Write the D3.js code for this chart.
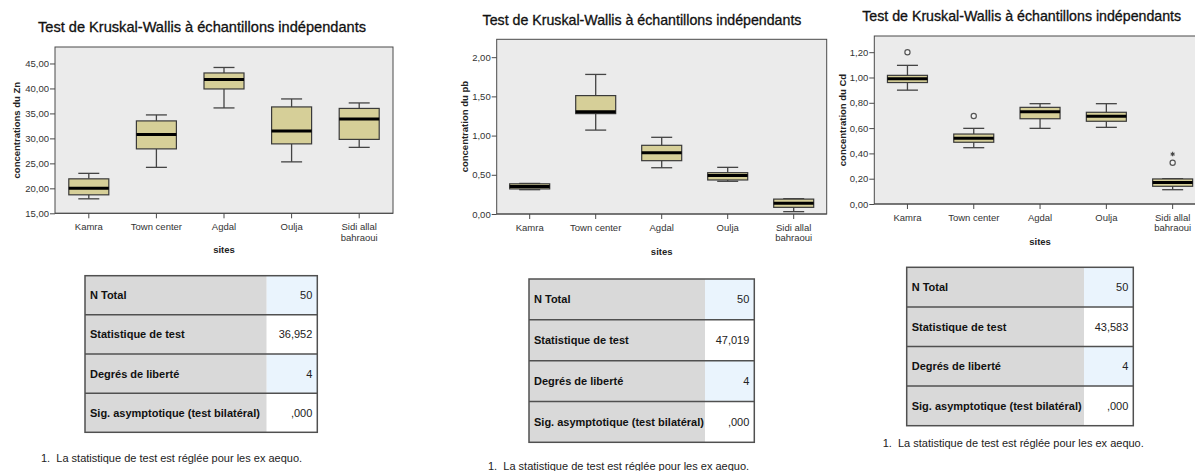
<!DOCTYPE html>
<html>
<head>
<meta charset="utf-8">
<script src="https://cdn.jsdelivr.net/npm/d3@7"></script>
<style>
  body { margin: 0; background: #fff; }
  svg { display: block; }
</style>
</head>
<body>
<div id="graphArea"></div>
<script>
const sites = ["Kamra", "Town center", "Agdal", "Oulja", "Sidi allal bahraoui"];
const siteLines = [["Kamra"], ["Town center"], ["Agdal"], ["Oulja"], ["Sidi allal", "bahraoui"]];

// [min, q1, median, q3, max]
const znBoxes = [
  [17.9, 18.7, 20.0, 21.9, 23.0],
  [24.2, 27.9, 30.8, 33.5, 34.7],
  [36.1, 39.9, 41.8, 43.1, 44.2],
  [25.3, 28.9, 31.5, 36.3, 37.9],
  [28.2, 29.8, 33.9, 36.0, 37.1]
];
const pbBoxes = [
  [0.31, 0.32, 0.35, 0.385, 0.39],
  [1.07, 1.28, 1.305, 1.51, 1.78],
  [0.59, 0.68, 0.78, 0.876, 0.978],
  [0.417, 0.434, 0.49, 0.527, 0.595],
  [0.03, 0.085, 0.136, 0.19, 0.195]
];
const cdBoxes = [
  [0.90, 0.96, 0.99, 1.017, 1.096],
  [0.445, 0.488, 0.52, 0.553, 0.598],
  [0.598, 0.674, 0.73, 0.764, 0.793],
  [0.606, 0.654, 0.693, 0.725, 0.793],
  [0.113, 0.14, 0.17, 0.198, 0.2]
];
const cdOutliers = [
  {site: "Kamra", value: 1.2, kind: "circle"},
  {site: "Town center", value: 0.696, kind: "circle"},
  {site: "Sidi allal bahraoui", value: 0.326, kind: "circle"},
  {site: "Sidi allal bahraoui", value: 0.395, kind: "star"}
];

const znTicks = [15, 20, 25, 30, 35, 40, 45];
const pbTicks = [0, 0.5, 1, 1.5, 2];
const cdTicks = [0, 0.2, 0.4, 0.6, 0.8, 1.0, 1.2];

const tableLabels = ["N Total", "Statistique de test", "Degrés de liberté", "Sig. asymptotique (test bilatéral)"];
const znTable = ["50", "36,952", "4", ",000"];
const pbTable = ["50", "47,019", "4", ",000"];
const cdTable = ["50", "43,583", "4", ",000"];

const chartTitle = "Test de Kruskal-Wallis à échantillons indépendants";
const footnote = "1.  La statistique de test est réglée pour les ex aequo.";

const fr = d3.formatLocale({decimal: ",", thousands: " ", grouping: [3], currency: ["", " €"]});
const fmt = fr.format(".2f");
const FONT = "'Liberation Sans', Arial, sans-serif";
const NARROW = "'Liberation Sans Narrow', 'Arial Narrow', sans-serif";

const svg = d3.select("#graphArea").append("svg")
  .attr("width", 1195).attr("height", 471);

function boxplot(opt) {
  const g = svg.append("g");
  const x = d3.scaleBand().domain(sites).range([opt.x0, opt.x1]);
  const y = d3.scaleLinear().domain(opt.domain).range([opt.y1, opt.y0]);

  g.append("rect")
    .attr("x", opt.x0).attr("y", opt.y0)
    .attr("width", opt.x1 - opt.x0).attr("height", opt.y1 - opt.y0)
    .attr("fill", "#ebebeb").attr("stroke", "#4a4a4a").attr("stroke-width", 1);

  const ya = g.append("g")
    .attr("transform", "translate(" + opt.x0 + ",0)")
    .call(d3.axisLeft(y).tickValues(opt.ticks).tickFormat(fmt).tickSize(5).tickPadding(1));
  ya.select(".domain").remove();
  ya.selectAll("line").attr("stroke", "#4a4a4a");
  ya.selectAll("text").attr("font-family", FONT).attr("font-size", opt.tickFont).attr("fill", "#333");

  const xa = g.append("g")
    .attr("transform", "translate(0," + opt.y1 + ")")
    .call(d3.axisBottom(x).tickSize(5).tickFormat(""));
  xa.select(".domain").remove();
  xa.selectAll("line").attr("stroke", "#4a4a4a");
  g.append("line")
    .attr("x1", opt.x0).attr("x2", opt.x1).attr("y1", opt.y1).attr("y2", opt.y1)
    .attr("stroke", "#4a4a4a");

  sites.forEach(function(s, i) {
    const t = g.append("text")
      .attr("x", x(s) + x.bandwidth() / 2)
      .attr("y", opt.labelY)
      .attr("text-anchor", "middle")
      .attr("font-family", FONT).attr("font-size", opt.tickFont).attr("fill", "#333");
    siteLines[i].forEach(function(line, j) {
      t.append("tspan").attr("x", x(s) + x.bandwidth() / 2).attr("dy", j === 0 ? 0 : 10.5).text(line);
    });
  });

  const bw = 40, cw = 21;
  opt.boxes.forEach(function(b, i) {
    const cx = x(sites[i]) + x.bandwidth() / 2;
    const bg = g.append("g");
    bg.append("line").attr("x1", cx).attr("x2", cx).attr("y1", y(b[0])).attr("y2", y(b[1]))
      .attr("stroke", "#444").attr("stroke-width", 1.3);
    bg.append("line").attr("x1", cx).attr("x2", cx).attr("y1", y(b[3])).attr("y2", y(b[4]))
      .attr("stroke", "#444").attr("stroke-width", 1.3);
    bg.append("line").attr("x1", cx - cw / 2).attr("x2", cx + cw / 2).attr("y1", y(b[0])).attr("y2", y(b[0]))
      .attr("stroke", "#444").attr("stroke-width", 1.3);
    bg.append("line").attr("x1", cx - cw / 2).attr("x2", cx + cw / 2).attr("y1", y(b[4])).attr("y2", y(b[4]))
      .attr("stroke", "#444").attr("stroke-width", 1.3);
    bg.append("rect")
      .attr("x", cx - bw / 2).attr("y", y(b[3]))
      .attr("width", bw).attr("height", y(b[1]) - y(b[3]))
      .attr("fill", "#d6cf98").attr("stroke", "#3a3a3a").attr("stroke-width", 1.2);
    bg.append("line").attr("x1", cx - bw / 2).attr("x2", cx + bw / 2).attr("y1", y(b[2])).attr("y2", y(b[2]))
      .attr("stroke", "#000").attr("stroke-width", 3);
  });

  (opt.outliers || []).forEach(function(o) {
    const cx = x(o.site) + x.bandwidth() / 2;
    if(o.kind === "circle") {
      g.append("circle").attr("cx", cx).attr("cy", y(o.value)).attr("r", 2.6)
        .attr("fill", "#f4f4f4").attr("stroke", "#555").attr("stroke-width", 1.2);
    }
    else {
      g.append("path").attr("d", d3.symbol(d3.symbolAsterisk, 14)())
        .attr("transform", "translate(" + cx + "," + y(o.value) + ")")
        .attr("fill", "none").attr("stroke", "#444").attr("stroke-width", 1.1);
    }
  });

  svg.append("text")
    .attr("x", opt.titleX).attr("y", opt.titleY)
    .attr("text-anchor", "middle")
    .attr("font-family", FONT).attr("font-size", opt.titleFont).attr("fill", "#111")
    .attr("stroke", "#111").attr("stroke-width", 0.3)
    .text(chartTitle);

  svg.append("text")
    .attr("transform", "translate(" + opt.ylabX + "," + ((opt.y0 + opt.y1) / 2) + ")rotate(-90)")
    .attr("text-anchor", "middle")
    .attr("font-family", FONT).attr("font-size", 9.5).attr("font-weight", "bold").attr("fill", "#222")
    .text(opt.yLabel);

  svg.append("text")
    .attr("x", (opt.x0 + opt.x1) / 2).attr("y", opt.sitesY)
    .attr("text-anchor", "middle")
    .attr("font-family", FONT).attr("font-size", 9.5).attr("font-weight", "bold").attr("fill", "#222")
    .text("sites");
}

function statTable(opt) {
  const g = svg.append("g");
  const rh = (opt.y1 - opt.y0) / tableLabels.length;
  const rows = d3.range(tableLabels.length);
  g.selectAll("rect.lab").data(rows).join("rect")
    .attr("x", opt.x0).attr("y", d => opt.y0 + d * rh)
    .attr("width", opt.xc - opt.x0).attr("height", rh)
    .attr("fill", "#d9d9d9");
  g.selectAll("rect.val").data(rows).join("rect")
    .attr("x", opt.xc).attr("y", d => opt.y0 + d * rh)
    .attr("width", opt.x1 - opt.xc).attr("height", rh)
    .attr("fill", d => d % 2 === 0 ? "#eaf4fd" : "#ffffff");
  g.selectAll("line.row").data(rows.slice(1)).join("line")
    .attr("x1", opt.x0).attr("x2", opt.x1)
    .attr("y1", d => opt.y0 + d * rh).attr("y2", d => opt.y0 + d * rh)
    .attr("stroke", "#505050").attr("stroke-width", 1.5);
  g.append("rect")
    .attr("x", opt.x0).attr("y", opt.y0)
    .attr("width", opt.x1 - opt.x0).attr("height", opt.y1 - opt.y0)
    .attr("fill", "none").attr("stroke", "#505050").attr("stroke-width", 1.5);
  g.selectAll("text.lab").data(tableLabels).join("text")
    .attr("x", opt.x0 + 5).attr("y", (d, i) => opt.y0 + i * rh + rh / 2 + 4)
    .attr("font-family", NARROW).attr("font-size", 11).attr("font-weight", "bold").attr("fill", "#111")
    .text(d => d);
  g.selectAll("text.val").data(opt.values).join("text")
    .attr("x", opt.x1 - 5).attr("y", (d, i) => opt.y0 + i * rh + rh / 2 + 4)
    .attr("text-anchor", "end")
    .attr("font-family", NARROW).attr("font-size", 11).attr("fill", "#222")
    .text(d => d);
  svg.append("text")
    .attr("x", opt.noteX).attr("y", opt.noteY)
    .attr("font-family", FONT).attr("font-size", 11).attr("fill", "#222")
    .attr("xml:space", "preserve")
    .text(footnote);
}

boxplot({x0: 55, x1: 393, y0: 47, y1: 213.3, domain: [15, 48.3], ticks: znTicks, boxes: znBoxes,
  tickFont: 9.5, labelY: 230, sitesY: 253, titleX: 202, titleY: 32, titleFont: 14.6,
  ylabX: 20, yLabel: "concentrations du Zn"});
boxplot({x0: 496.7, x1: 826.7, y0: 39.3, y1: 214, domain: [0, 2.228], ticks: pbTicks, boxes: pbBoxes,
  tickFont: 9.5, labelY: 230.5, sitesY: 255, titleX: 642, titleY: 25, titleFont: 14.2,
  ylabX: 468, yLabel: "concentration du pb"});
boxplot({x0: 874.3, x1: 1205.8, y0: 36, y1: 204, domain: [0, 1.328], ticks: cdTicks, boxes: cdBoxes,
  outliers: cdOutliers, tickFont: 9.5, labelY: 220.5, sitesY: 245, titleX: 1021.7, titleY: 21, titleFont: 14.2,
  ylabX: 846, yLabel: "concentration du Cd"});

statTable({x0: 85, x1: 317.3, xc: 266.7, y0: 275.7, y1: 432.3, values: znTable, noteX: 41, noteY: 462});
statTable({x0: 529, x1: 754.3, xc: 705, y0: 279, y1: 442.3, values: pbTable, noteX: 488, noteY: 469.5});
statTable({x0: 906.7, x1: 1133.3, xc: 1084, y0: 267.3, y1: 425.7, values: cdTable, noteX: 882.7, noteY: 446.5});
</script>
</body>
</html>
